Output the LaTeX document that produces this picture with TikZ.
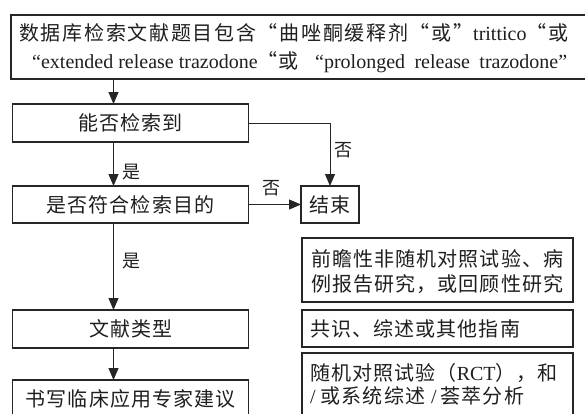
\documentclass[tikz,border=0pt]{standalone}
\usepackage{fontspec}
\setmainfont[LetterSpace=5.5]{Noto Sans CJK SC}
\newfontfamily\cjkwide[LetterSpace=8.5]{Noto Sans CJK SC}
\newfontfamily\lat{Liberation Serif}
\usetikzlibrary{arrows.meta}
\begin{document}
\begin{tikzpicture}[x=1pt,y=-1pt,
  box/.style={draw=black!85, line width=1.1pt, inner sep=0pt, outer sep=0pt, anchor=north west},
  txt/.style={inner sep=0pt, font=\fontsize{20}{26}\selectfont, text=black!88},
  lbl/.style={inner sep=0pt, font=\fontsize{18}{22}\selectfont, text=black!88},
  arr/.style={draw=black!85, line width=1pt, -{Triangle[length=12pt,width=10pt]}}]
\clip (0,0) rectangle (585,413);
\fill[white] (0,0) rectangle (585,413);
\coordinate (ax) at (113.5,0);
% top box
\node[box, minimum width=600pt, minimum height=64pt] (top) at (11,15) {};
\node[txt, anchor=west, font=\fontsize{20}{26}\cjkwide] (t1) at (19,33) {数据库检索文献题目包含“曲唑酮缓释剂“或”{\lat trittico}“或};
\node[txt, anchor=west] (t2) at (32,62) {\makebox[535pt][s]{{\lat “extended release trazodone}“或\hfill\makebox[252pt][s]{\lat “prolonged release trazodone”}}};
% left column
\node[box, minimum width=235.5pt, minimum height=38pt] (b1) at (12.7,104) {};
\node[txt] (b1t) at (b1.center) {能否检索到};
\node[box, minimum width=235.5pt, minimum height=37pt] (b2) at (12.7,186) {};
\node[txt] (b2t) at (b2.center) {是否符合检索目的};
\node[box, minimum width=236pt, minimum height=38pt] (b3) at (12.7,310) {};
\node[txt] (b3t) at (b3.center) {文献类型};
\node[box, minimum width=236pt, minimum height=38pt] (b4) at (12.7,380) {};
\node[txt] (b4t) at (130.7,399) {书写临床应用专家建议};
% end
\node[box, minimum width=58pt, minimum height=37pt] (end) at (301,186) {};
\node[txt] (endt) at (end.center) {结束};
% right column
\node[box, minimum width=271pt, minimum height=64pt] (r1) at (302,238) {};
\node[txt, anchor=west] (r1a) at (311,259) {前瞻性非随机对照试验、病};
\node[txt, anchor=west] (r1b) at (311,284) {例报告研究，或回顾性研究};
\node[box, minimum width=271pt, minimum height=37pt] (r2) at (302,310) {};
\node[txt, anchor=west] (r2t) at (310,328.5) {共识、综述或其他指南};
\node[box, minimum width=271pt, minimum height=70pt] (r3) at (302,353) {};
\node[txt, anchor=west] (r3a) at (310,373) {随机对照试验（{\lat RCT}），和};
\node[txt, anchor=west] (r3b) at (310,396) {{\lat /}\hspace{5pt}或系统综述\hspace{6pt}{\lat /}\hspace{4pt}荟萃分析};
% connectors
\draw[arr] (top.south -| ax) -- (b1.north -| ax);
\draw[arr] (b1.east) -| (end.north);
\draw[arr] (b1.south -| ax) -- (b2.north -| ax);
\draw[arr] (b2.east) -- (end.west);
\draw[arr] (b2.south -| ax) -- (b3.north -| ax);
\draw[arr] (b3.south -| ax) -- (b4.north -| ax);
% labels
\node[lbl] (l1) at (343,150) {否};
\node[lbl] (l2) at (131,172) {是};
\node[lbl] (l3) at (271,188) {否};
\node[lbl] (l4) at (131,261) {是};
\end{tikzpicture}
\end{document}
